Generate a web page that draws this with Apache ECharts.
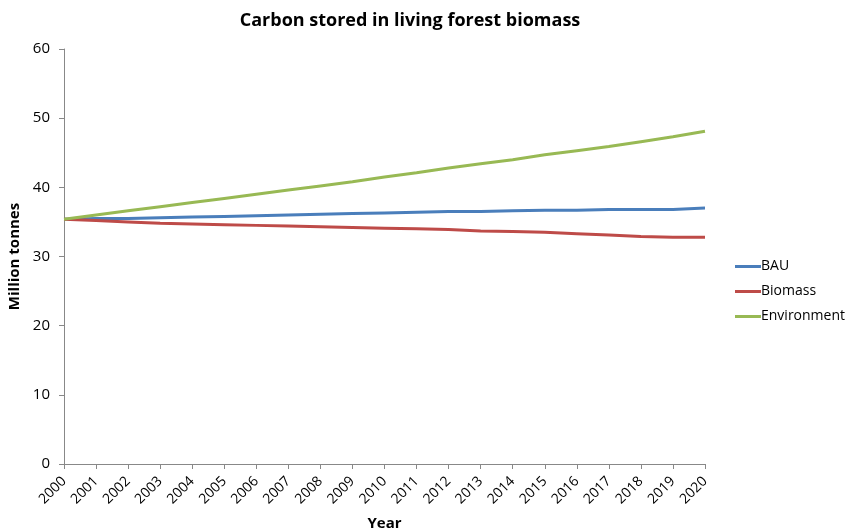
<!DOCTYPE html>
<html><head><meta charset="utf-8">
<script src="https://cdn.jsdelivr.net/npm/echarts@6/dist/echarts.min.js"></script>
<style>html,body{margin:0;padding:0;background:#fff}#c{width:850px;height:532px}</style>
</head><body><div id="c"></div>
<script>
const years = ['2000','2001','2002','2003','2004','2005','2006','2007','2008','2009','2010','2011','2012','2013','2014','2015','2016','2017','2018','2019','2020'];
const bau = [35.4,35.5,35.5,35.6,35.7,35.8,35.9,36.0,36.1,36.2,36.3,36.4,36.5,36.5,36.6,36.7,36.7,36.8,36.8,36.8,37.0];
const biomass = [35.4,35.2,35.0,34.8,34.7,34.6,34.5,34.4,34.3,34.2,34.1,34.0,33.9,33.7,33.6,33.5,33.3,33.1,32.9,32.8,32.8];
const environment = [35.4,36.0,36.6,37.2,37.8,38.4,39.0,39.6,40.2,40.8,41.5,42.1,42.8,43.4,44.0,44.7,45.3,45.9,46.6,47.3,48.1];
const font = 'Open Sans, DejaVu Sans, sans-serif';
const chart = echarts.init(document.getElementById('c'));
const mk = (name, data, color) => ({name, type:'line', data, symbol:'none', smooth:false,
  lineStyle:{color, width:3}, itemStyle:{color}});
chart.setOption({
  animation:false,
  title:{text:'Carbon stored in living forest biomass', left:405, textAlign:'center', top:7,
    textStyle:{fontFamily:font, fontSize:18, fontWeight:'bold', color:'#000'}},
  grid:{left:64, right:145, top:49, bottom:68, outerBoundsMode:'none', containLabel:false},
  legend:{orient:'vertical', left:735, top:258, padding:0, itemGap:8, itemWidth:26, itemHeight:3,
    icon:'rect', textStyle:{fontFamily:font, fontSize:14, color:'#000', padding:[0,0,0,-5], lineHeight:17},
    data:['BAU','Biomass','Environment']},
  xAxis:{type:'category', data:years, boundaryGap:false,
    name:'Year', nameLocation:'middle', nameGap:52,
    nameTextStyle:{fontFamily:font, fontSize:15, fontWeight:'bold', color:'#000'},
    axisLine:{lineStyle:{color:'#888', width:1}},
    axisTick:{show:true, length:5, lineStyle:{color:'#888'}, alignWithLabel:true},
    axisLabel:{rotate:45, fontFamily:font, fontSize:14, color:'#000', margin:15, interval:0},
    splitLine:{show:false}},
  yAxis:{type:'value', min:0, max:60, interval:10,
    name:'Million tonnes', nameLocation:'middle', nameGap:40, nameRotate:90,
    nameTextStyle:{fontFamily:font, fontSize:15, fontWeight:'bold', color:'#000'},
    axisLine:{show:true, lineStyle:{color:'#888', width:1}},
    axisTick:{show:true, length:5, lineStyle:{color:'#888'}},
    axisLabel:{fontFamily:font, fontSize:15, color:'#000', margin:14},
    splitLine:{show:false}},
  series:[mk('BAU', bau, '#4a7ebb'), mk('Biomass', biomass, '#be4b48'), mk('Environment', environment, '#98b954')]
});
</script></body></html>
